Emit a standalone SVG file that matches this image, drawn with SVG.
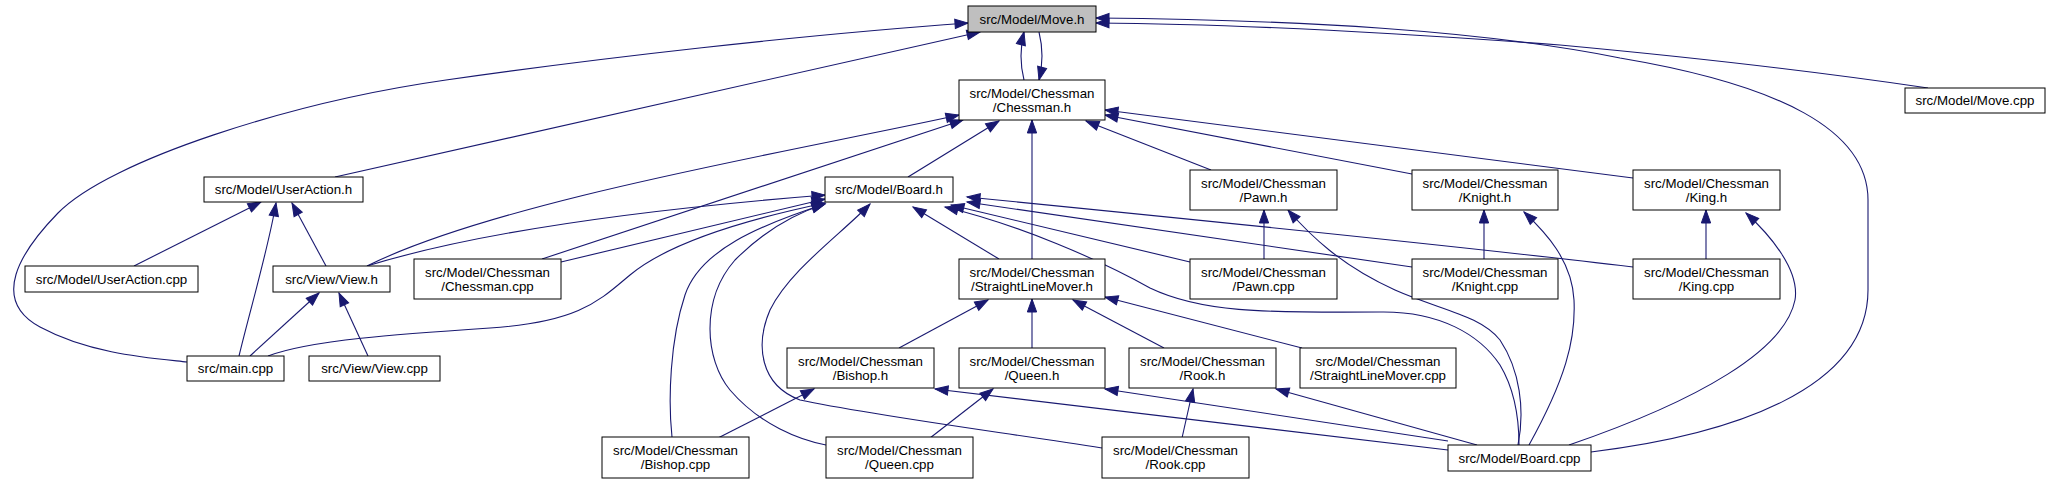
<svg xmlns="http://www.w3.org/2000/svg" width="2051" height="484" viewBox="0 0 2051 484">
<style>
.n rect{fill:#fff;stroke:#000;stroke-width:1}
.n.g rect{fill:#bfbfbf}
.n text{font-family:"Liberation Sans",Arial,sans-serif;font-size:13.3px;fill:#000;text-anchor:middle}
.e path{fill:none;stroke:#191970;stroke-width:1.1;marker-start:url(#ah)}
</style>
<defs>
<marker id="ah" markerUnits="userSpaceOnUse" markerWidth="14" markerHeight="10" refX="13" refY="4.65" orient="auto-start-reverse" overflow="visible">
<path d="M0,0 L13,4.65 L0,9.3 z" fill="#191970" stroke="#191970" stroke-width="1"/>
</marker>
</defs>
<rect width="2051" height="484" fill="#fff"/>
<g id="connectors" class="e">
<path d="M1024,32 C1020,48 1020,64 1024,80"/>
<path d="M1039,80 C1043,64 1043,48 1039,32"/>
<path d="M980,32 L335,177"/>
<path d="M968,23 C800,35 600,58 446,80 C292,102 110,160 58,213 C20,252 -10,300 40,327 C90,354 150,358 187,362"/>
<path d="M1096,23 C1250,24 1400,33 1560,45 C1700,58 1820,72 1928,88"/>
<path d="M1096,18 C1300,20 1480,30 1620,58 C1780,85 1868,130 1868,200 L1868,290 C1868,390 1730,435 1591,452"/>
<path d="M959,115 C800,150 500,200 367,266"/>
<path d="M963,120 L542,259"/>
<path d="M999,121 L908,177"/>
<path d="M1032,120 L1032,259"/>
<path d="M1086,121 L1211,170"/>
<path d="M1105,115 L1412,174"/>
<path d="M1105,110 L1633,178"/>
<path d="M825,195 C700,205 500,225 367,266"/>
<path d="M825,199 L561,262"/>
<path d="M825,203 C720,225 660,250 630,275 C600,300 580,322 490,328 C400,334 310,340 268,356"/>
<path d="M825,204 C760,225 700,250 685,295 C670,340 668,400 672,437"/>
<path d="M825,204 C790,215 760,235 735,260 C700,300 705,360 730,390 C760,425 800,440 826,445"/>
<path d="M870,204 C840,235 790,270 770,310 C755,345 760,385 800,400 C870,415 1000,432 1102,448"/>
<path d="M913,207 L999,259"/>
<path d="M951,205 L1190,262"/>
<path d="M967,202 L1412,267"/>
<path d="M967,197 C1200,220 1450,245 1633,267"/>
<path d="M945,207 C1020,225 1100,260 1150,288 C1200,312 1260,313 1380,312 C1440,311 1480,335 1500,365 C1515,390 1519,420 1519,445"/>
<path d="M1288,210 C1310,235 1340,265 1395,290 C1440,310 1480,315 1500,340 C1520,370 1525,410 1518,445"/>
<path d="M1524,212 C1545,232 1572,260 1574,300 C1576,340 1565,380 1529,445"/>
<path d="M1746,213 C1770,235 1800,270 1795,300 C1785,350 1700,400 1569,445"/>
<path d="M1276,389 L1477,445"/>
<path d="M1105,389 L1448,441"/>
<path d="M935,389 L1448,450"/>
<path d="M261,202 L134,266"/>
<path d="M276,203 C268,250 250,310 239,356"/>
<path d="M292,203 L326,266"/>
<path d="M319,293 L250,356"/>
<path d="M339,293 L368,356"/>
<path d="M1264,210 L1264,259"/>
<path d="M1484,210 L1484,259"/>
<path d="M1706,210 L1706,259"/>
<path d="M988,300 L899,348"/>
<path d="M1032,299 L1032,348"/>
<path d="M1073,300 L1164,348"/>
<path d="M1105,297 L1302,348"/>
<path d="M814,389 L718,438"/>
<path d="M993,389 L930,438"/>
<path d="M1193,389 L1182,438"/>
</g>
<g id="move_h" class="n g"><rect x="968" y="6" width="128" height="26"/><text x="1032" y="23.7">src/Model/Move.h</text></g>
<g id="chessman_h" class="n"><rect x="959" y="80" width="146" height="40"/><text x="1032" y="97.5">src/Model/Chessman</text><text x="1032" y="111.5">/Chessman.h</text></g>
<g id="move_cpp" class="n"><rect x="1905" y="88" width="140" height="25"/><text x="1975" y="105.2">src/Model/Move.cpp</text></g>
<g id="useraction_h" class="n"><rect x="204" y="177" width="159" height="25"/><text x="283.5" y="194.2">src/Model/UserAction.h</text></g>
<g id="board_h" class="n"><rect x="825" y="177" width="128" height="25"/><text x="889" y="194.2">src/Model/Board.h</text></g>
<g id="pawn_h" class="n"><rect x="1190" y="170" width="147" height="40"/><text x="1263.5" y="187.5">src/Model/Chessman</text><text x="1263.5" y="201.5">/Pawn.h</text></g>
<g id="knight_h" class="n"><rect x="1412" y="170" width="146" height="40"/><text x="1485" y="187.5">src/Model/Chessman</text><text x="1485" y="201.5">/Knight.h</text></g>
<g id="king_h" class="n"><rect x="1633" y="170" width="147" height="40"/><text x="1706.5" y="187.5">src/Model/Chessman</text><text x="1706.5" y="201.5">/King.h</text></g>
<g id="useraction_cpp" class="n"><rect x="25" y="266" width="173" height="26"/><text x="111.5" y="283.7">src/Model/UserAction.cpp</text></g>
<g id="view_h" class="n"><rect x="273" y="266" width="117" height="26"/><text x="331.5" y="283.7">src/View/View.h</text></g>
<g id="chessman_cpp" class="n"><rect x="414" y="259" width="147" height="40"/><text x="487.5" y="276.5">src/Model/Chessman</text><text x="487.5" y="290.5">/Chessman.cpp</text></g>
<g id="slm_h" class="n"><rect x="959" y="259" width="146" height="40"/><text x="1032" y="276.5">src/Model/Chessman</text><text x="1032" y="290.5">/StraightLineMover.h</text></g>
<g id="pawn_cpp" class="n"><rect x="1190" y="259" width="147" height="40"/><text x="1263.5" y="276.5">src/Model/Chessman</text><text x="1263.5" y="290.5">/Pawn.cpp</text></g>
<g id="knight_cpp" class="n"><rect x="1412" y="259" width="146" height="40"/><text x="1485" y="276.5">src/Model/Chessman</text><text x="1485" y="290.5">/Knight.cpp</text></g>
<g id="king_cpp" class="n"><rect x="1633" y="259" width="147" height="40"/><text x="1706.5" y="276.5">src/Model/Chessman</text><text x="1706.5" y="290.5">/King.cpp</text></g>
<g id="main_cpp" class="n"><rect x="187" y="356" width="97" height="25"/><text x="235.5" y="373.2">src/main.cpp</text></g>
<g id="view_cpp" class="n"><rect x="309" y="356" width="131" height="25"/><text x="374.5" y="373.2">src/View/View.cpp</text></g>
<g id="bishop_h" class="n"><rect x="787" y="348" width="147" height="40"/><text x="860.5" y="365.5">src/Model/Chessman</text><text x="860.5" y="379.5">/Bishop.h</text></g>
<g id="queen_h" class="n"><rect x="959" y="348" width="146" height="40"/><text x="1032" y="365.5">src/Model/Chessman</text><text x="1032" y="379.5">/Queen.h</text></g>
<g id="rook_h" class="n"><rect x="1129" y="348" width="147" height="40"/><text x="1202.5" y="365.5">src/Model/Chessman</text><text x="1202.5" y="379.5">/Rook.h</text></g>
<g id="slm_cpp" class="n"><rect x="1300" y="348" width="156" height="40"/><text x="1378" y="365.5">src/Model/Chessman</text><text x="1378" y="379.5">/StraightLineMover.cpp</text></g>
<g id="bishop_cpp" class="n"><rect x="602" y="437" width="147" height="41"/><text x="675.5" y="455">src/Model/Chessman</text><text x="675.5" y="469">/Bishop.cpp</text></g>
<g id="queen_cpp" class="n"><rect x="826" y="437" width="147" height="41"/><text x="899.5" y="455">src/Model/Chessman</text><text x="899.5" y="469">/Queen.cpp</text></g>
<g id="rook_cpp" class="n"><rect x="1102" y="437" width="147" height="41"/><text x="1175.5" y="455">src/Model/Chessman</text><text x="1175.5" y="469">/Rook.cpp</text></g>
<g id="board_cpp" class="n"><rect x="1448" y="445" width="143" height="26"/><text x="1519.5" y="462.7">src/Model/Board.cpp</text></g>
</svg>
